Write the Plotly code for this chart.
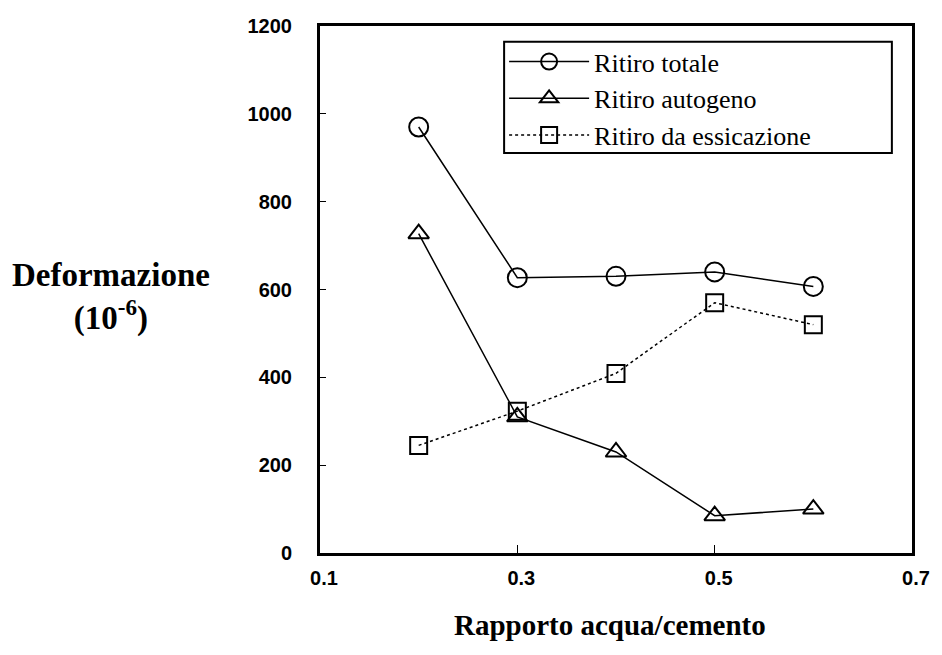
import plotly.graph_objects as go

rapporto = [0.2, 0.3, 0.4, 0.5, 0.6]
ritiro_totale = [970, 627, 630, 640, 607]
ritiro_autogeno = [727, 310, 230, 85, 100]
ritiro_essicazione = [245, 323, 409, 570, 520]

x_ticks = [0.1, 0.3, 0.5, 0.7]
y_ticks = [0, 200, 400, 600, 800, 1000, 1200]

serif = "Liberation Serif"
sans = "Liberation Sans"

fig = go.Figure()
fig.add_trace(go.Scatter(x=rapporto, y=ritiro_totale, name="Ritiro totale", mode="lines+markers",
                         line=dict(color="black", width=1.5),
                         marker=dict(symbol="circle-open", size=19, color="black", line=dict(width=2))))
fig.add_trace(go.Scatter(x=rapporto, y=ritiro_autogeno, name="Ritiro autogeno", mode="lines+markers",
                         line=dict(color="black", width=1.5),
                         marker=dict(symbol="triangle-up-open", size=18, color="black", line=dict(width=2))))
fig.add_trace(go.Scatter(x=rapporto, y=ritiro_essicazione, name="Ritiro da essicazione", mode="lines+markers",
                         line=dict(color="black", width=1.5, dash="dot"),
                         marker=dict(symbol="square-open", size=17, color="black", line=dict(width=2))))

fig.update_layout(
    width=942, height=655,
    margin=dict(l=320, r=27, t=26, b=102),
    paper_bgcolor="white", plot_bgcolor="white",
    showlegend=True,
    legend=dict(x=0.311, y=0.977, xanchor="left", yanchor="top",
                borderwidth=0, bgcolor="rgba(0,0,0,0)",
                font=dict(family=serif, size=26, color="black"),
                tracegroupgap=0, itemwidth=80),
    xaxis=dict(range=[0.1, 0.7], tickvals=x_ticks, ticktext=[str(v) for v in x_ticks],
               showgrid=False, zeroline=False, showline=True, linecolor="black", linewidth=3,
               mirror=True, ticks="inside", ticklen=8, tickcolor="black",
               ticklabelstandoff=5, ticklabelshift=4,
               tickfont=dict(family=sans, size=20, color="black", weight="bold")),
    yaxis=dict(range=[0, 1200], tickvals=y_ticks,
               showgrid=False, zeroline=False, showline=True, linecolor="black", linewidth=3,
               mirror=True, ticks="inside", ticklen=6, tickcolor="black",
               ticklabelstandoff=21,
               tickfont=dict(family=sans, size=20, color="black", weight="bold")),
    shapes=[
        # legend frame, wider than plotly's own legend box
        dict(type="rect", xref="paper", yref="paper", x0=0.311, x1=0.966, y0=0.759, y1=0.970,
             line=dict(color="black", width=2)),
    ],
    annotations=[
        dict(text="<b>Deformazione</b><br><b>(10<sup>-6</sup>)</b>", xref="paper", yref="paper",
             x=-0.353, y=0.485, xanchor="center", yanchor="middle", showarrow=False,
             font=dict(family=serif, size=33, color="black")),
        dict(text="<b>Rapporto acqua/cemento</b>", xref="paper", yref="paper",
             x=0.49, y=-0.137, xanchor="center", yanchor="middle", showarrow=False,
             font=dict(family=serif, size=29, color="black")),
    ],
)

# drop the default body margin so the figure fills the window exactly
fig.write_html("out.html", config={"displayModeBar": False},
               post_script="document.body.style.margin = '0';")
